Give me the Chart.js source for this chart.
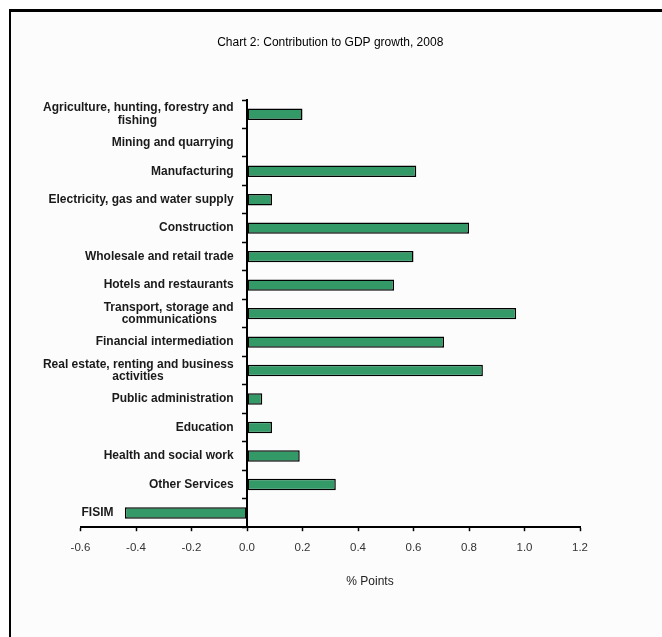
<!DOCTYPE html>
<html>
<head>
<meta charset="utf-8">
<script src="https://cdn.jsdelivr.net/npm/chart.js@4.4.1/dist/chart.umd.min.js"></script>
<style>
html,body{margin:0;padding:0;background:#fff}
body{width:662px;height:637px;position:relative;overflow:hidden;font-family:"Liberation Sans",Arial,sans-serif}
#frame{position:absolute;left:9px;top:9px;width:700px;height:700px;border-left:2px solid #000;border-top:3px solid #000;background:#fcfcfc}
#wrap{position:absolute;left:0;top:0;width:662px;height:637px}
#unit{position:absolute;top:574px;left:300px;width:140px;text-align:center;font-size:12px;color:#222}
</style>
</head>
<body>
<div id="frame"></div>
<div id="wrap"><canvas id="c"></canvas></div>
<div id="unit">% Points</div>
<script>
// data
const sectors = [
  ['Agriculture, hunting, forestry and','fishing'],
  'Mining and quarrying',
  'Manufacturing',
  'Electricity, gas and water supply',
  'Construction',
  'Wholesale and retail trade',
  'Hotels and restaurants',
  ['Transport, storage and','communications'],
  'Financial intermediation',
  ['Real estate, renting and business','activities'],
  'Public administration',
  'Education',
  'Health and social work',
  'Other Services',
  'FISIM'
]
const contribution = [0.20, 0, 0.61, 0.09, 0.80, 0.60, 0.53, 0.97, 0.71, 0.85, 0.055, 0.09, 0.19, 0.32, -0.44]
const xMin = -0.6, xMax = 1.2, xStep = 0.2
const chartTitle = 'Chart 2: Contribution to GDP growth, 2008'

const FONT = '"Liberation Sans", Arial, sans-serif'
Chart.defaults.font.family = FONT
Chart.defaults.font.size = 12
Chart.defaults.color = '#111'

// labels on an axis placed at x=0 sit right on the line, so keep a small gap with
// trailing spaces, and pad the shorter line of a two-line label so both look centred
const mctx = document.createElement('canvas').getContext('2d')
function axisLabel(lab){
  mctx.font = 'bold 12px ' + FONT
  const sp = mctx.measureText(' ').width
  const gap = ' '.repeat(4)
  if(!Array.isArray(lab)) return lab + gap
  const w = lab.map(l=>mctx.measureText(l).width)
  const max = Math.max(...w)
  return lab.map((l,i)=>l + ' '.repeat(Math.round((max-w[i])/2/sp)) + gap)
}
const last = sectors.length - 1

new Chart(document.getElementById('c').getContext('2d'), {
  type:'bar',
  data:{
    labels:sectors,
    datasets:[{
      data:contribution,
      backgroundColor:'#339966',
      borderColor:'#000',
      borderWidth:1.5,
      borderSkipped:false,
      barPercentage:0.4,
      categoryPercentage:1,
      xAxisID:'x', yAxisID:'y'
    }]
  },
  options:{
    indexAxis:'y',
    responsive:true,
    maintainAspectRatio:false,
    animation:false,
    layout:{padding:{left:80.5, right:82, top:0, bottom:72}},
    plugins:{
      legend:{display:false},
      tooltip:{enabled:false},
      title:{display:true, text:chartTitle, color:'#000', font:{size:12, weight:'normal'}, padding:{top:35.5, bottom:50.1}}
    },
    scales:{
      x:{
        type:'linear', min:xMin, max:xMax,
        ticks:{stepSize:xStep, color:'#333', padding:10, font:{size:11.5},
          callback:v=>(Math.abs(v)<1e-9?0:v).toFixed(1)},
        grid:{drawOnChartArea:false, color:'#000', tickLength:4, tickWidth:1.5},
        border:{color:'#000', width:2}
      },
      y:{
        type:'category', axis:'y', position:{x:0}, offset:true,
        ticks:{autoSkip:false, color:'#1a1a1a', padding:0, font:{size:12, weight:'bold', lineHeight:1.06},
          callback:function(v, i){ return i===last ? '' : axisLabel(sectors[i]) }},
        grid:{offset:true, drawOnChartArea:false, color:'#000', tickLength:4, tickWidth:1.5},
        border:{color:'#000', width:2}
      },
      y2:{
        type:'category', axis:'y', position:'left', offset:true,
        afterFit:function(s){ s.width = 0 },
        ticks:{autoSkip:false, mirror:true, padding:1, color:'#1a1a1a', font:{size:12, weight:'bold'},
          callback:function(v, i){ return i===last ? sectors[i] : '' }},
        grid:{display:false},
        border:{display:false}
      }
    }
  }
})
</script>
</body>
</html>
